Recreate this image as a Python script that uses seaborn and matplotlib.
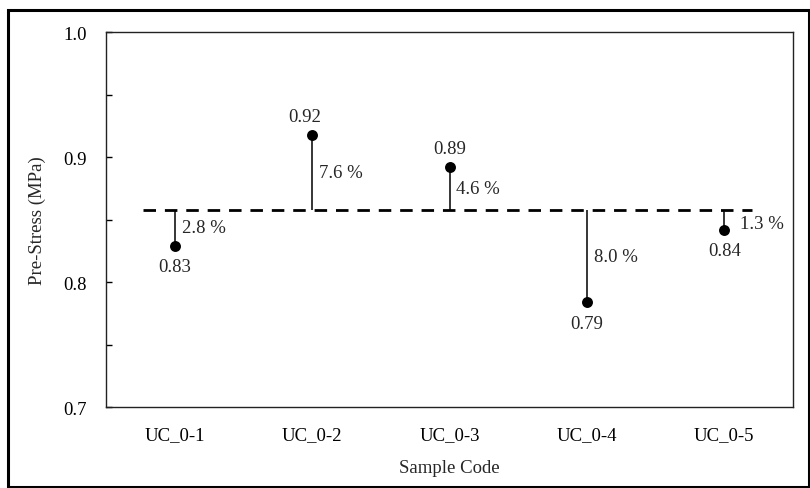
"""
Pre-stress per sample with deviation from the mean
"""
import matplotlib
matplotlib.use('Agg')
import matplotlib.pyplot as plt
from matplotlib.patches import Rectangle
import pandas as pd
import seaborn as sns

# Data
samples = ['UC_0-1', 'UC_0-2', 'UC_0-3', 'UC_0-4', 'UC_0-5']
prestress = [0.829, 0.918, 0.892, 0.784, 0.842]
value_labels = ['0.83', '0.92', '0.89', '0.79', '0.84']
deviation_labels = ['2.8 %', '7.6 %', '4.6 %', '8.0 %', '1.3 %']
mean_prestress = 0.8575

df = pd.DataFrame({'pos': range(1, len(samples) + 1),
                   'sample': samples,
                   'prestress': prestress})

FS = 13.5

sns.set_theme(style='ticks')
plt.rcParams['font.family'] = ['Liberation Serif', 'DejaVu Serif']

fig = plt.figure(figsize=(8.1, 4.89), dpi=100)
ax = fig.add_axes([0.1309, 0.1656, 0.979 - 0.1309, 0.9325 - 0.1656])

# mean line and stems
ax.hlines(mean_prestress, 0.77, 5.2, colors='black', linestyles=(0, (4.5, 3.2)),
          linewidth=2.0, zorder=2)
ax.vlines(df['pos'], df['prestress'], mean_prestress, colors='black',
          linewidth=1.1, zorder=2)
sns.scatterplot(data=df, x='pos', y='prestress', ax=ax, color='black',
                s=62, edgecolor='black', linewidth=0, zorder=3, legend=False)

# value and deviation labels
for x, y, vl, dl in zip(df['pos'], df['prestress'], value_labels, deviation_labels):
    above = y > mean_prestress
    if above:
        ax.annotate(vl, (x, y), xytext=(-5 if x == 2 else 0, 7), textcoords='offset points',
                    ha='center', va='bottom', fontsize=FS)
    else:
        ax.annotate(vl, (x, y), xytext=(0, -9), textcoords='offset points',
                    ha='center', va='top', fontsize=FS)
    xoff = 11 if x == 5 else 5
    yoff = -3 if x == 5 else 0
    ax.annotate(dl, (x, (y + mean_prestress) / 2), xytext=(xoff, yoff),
                textcoords='offset points', ha='left', va='center', fontsize=FS)

ax.set_xlim(0.5, 5.5)
ax.set_ylim(0.7, 1.0)
ax.set_xticks(df['pos'])
ax.set_xticklabels(samples)
ax.set_yticks([0.7, 0.8, 0.9, 1.0])
ax.set_yticks([0.75, 0.85, 0.95], minor=True)
ax.tick_params(axis='y', which='both', direction='in', length=4, width=1,
               labelsize=FS, pad=14, colors='black')
ax.tick_params(axis='x', length=0, labelsize=FS, pad=14, colors='black')
ax.yaxis.set_major_formatter(matplotlib.ticker.FormatStrFormatter('%.1f'))

ax.set_xlabel('Sample Code', fontsize=FS, labelpad=11)
ax.set_ylabel('Pre-Stress (MPa)', fontsize=FS, labelpad=12)
for spine in ax.spines.values():
    spine.set_visible(True)
    spine.set_linewidth(1.0)
    spine.set_color('#222222')

# outer frame around the whole figure
fig.patches.append(Rectangle((8 / 810, 1 / 489), 801 / 810, 477 / 489,
                             transform=fig.transFigure, fill=False,
                             edgecolor='black', linewidth=2.2))

fig.savefig('out.png', dpi=100, facecolor='white')
plt.close(fig)
